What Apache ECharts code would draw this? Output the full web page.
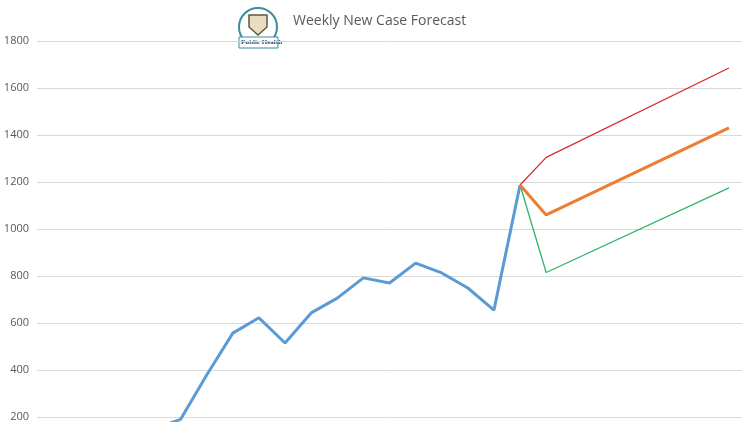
<!DOCTYPE html>
<html>
<head>
<meta charset="utf-8">
<script src="https://cdn.jsdelivr.net/npm/echarts@6/dist/echarts.min.js"></script>
<style>
    html, body { margin: 0; padding: 0; background: #fff; }
    #chart { width: 750px; height: 422px; }
</style>
</head>
<body>
<div id="chart"></div>
<script>
    // week index labels (not shown in the picture)
    var weeks = [];
    for (var i = 1; i <= 27; i++) {
        weeks.push('W' + i);
    }

    // reported weekly cases, first weeks are below the visible area
    var actual = [20, 40, 70, 110, 150, 190, 379, 557, 622, 515, 643, 706, 792, 770,
        855, 813, 749, 655, 1187, null, null, null, null, null, null, null, null];

    // forecasts start from the last reported week
    var highCase = [null, null, null, null, null, null, null, null, null, null, null, null, null, null,
        null, null, null, null, 1187, 1305, null, null, null, null, null, null, 1685];
    var midCase = [null, null, null, null, null, null, null, null, null, null, null, null, null, null,
        null, null, null, null, 1187, 1060, null, null, null, null, null, null, 1430];
    var lowCase = [null, null, null, null, null, null, null, null, null, null, null, null, null, null,
        null, null, null, null, 1187, 815, null, null, null, null, null, null, 1175];

    var yTicks = [0, 200, 400, 600, 800, 1000, 1200, 1400, 1600, 1800];

    var myChart = echarts.init(document.getElementById('chart'));

    function lineSeries(name, data, color, width) {
        return {
            name: name,
            type: 'line',
            data: data,
            connectNulls: true,
            symbol: 'none',
            smooth: false,
            lineStyle: { color: color, width: width },
            z: width > 2 ? 3 : 2
        };
    }

    var option = {
        animation: false,
        backgroundColor: '#fff',
        title: {
            text: 'Weekly New Case Forecast',
            left: 288,
            top: 9,
            textStyle: {
                fontFamily: 'Open Sans',
                fontSize: 14,
                fontWeight: 'normal',
                color: '#595959'
            }
        },
        graphic: [
            {
                type: 'circle',
                shape: { cx: 258, cy: 27, r: 19 },
                style: { fill: '#fff', stroke: '#3b8d99', lineWidth: 2 }
            },
            {
                type: 'polygon',
                shape: { points: [[249, 15], [267, 15], [267, 27], [258, 35], [249, 27]] },
                style: { fill: '#e9dcc0', stroke: '#5c5a3e', lineWidth: 1.5 }
            },
            {
                type: 'rect',
                shape: { x: 239, y: 37, width: 39, height: 11 },
                style: { fill: '#fff', stroke: '#3b8d99', lineWidth: 1 }
            },
            {
                type: 'text',
                left: 241,
                top: 39,
                style: { text: 'Public Health', fontSize: 7, fontWeight: 'bold', fill: '#1f4e79', fontFamily: 'Liberation Sans Narrow' }
            }
        ],
        grid: {
            left: 37,
            right: 8,
            top: 41,
            bottom: -42,
            containLabel: false,
            outerBoundsMode: 'none'
        },
        xAxis: {
            type: 'category',
            data: weeks,
            boundaryGap: true,
            axisLine: { show: false },
            axisTick: { show: false },
            axisLabel: { show: false }
        },
        yAxis: {
            type: 'value',
            min: yTicks[0],
            max: yTicks[yTicks.length - 1],
            interval: 200,
            axisLine: { show: false },
            axisTick: { show: false },
            axisLabel: {
                color: '#595959',
                fontSize: 11,
                fontFamily: 'Open Sans',
                margin: 8,
                formatter: function (v) { return String(v); }
            },
            splitLine: { lineStyle: { color: '#d9d9d9', width: 1 } }
        },
        series: [
            lineSeries('Actual', actual, '#5b9bd5', 3),
            lineSeries('High', highCase, '#d62c2c', 1.3),
            lineSeries('Low', lowCase, '#2fb36a', 1.3),
            lineSeries('Mid', midCase, '#ed7d31', 3)
        ]
    };
    myChart.setOption(option);
</script>
</body>
</html>
